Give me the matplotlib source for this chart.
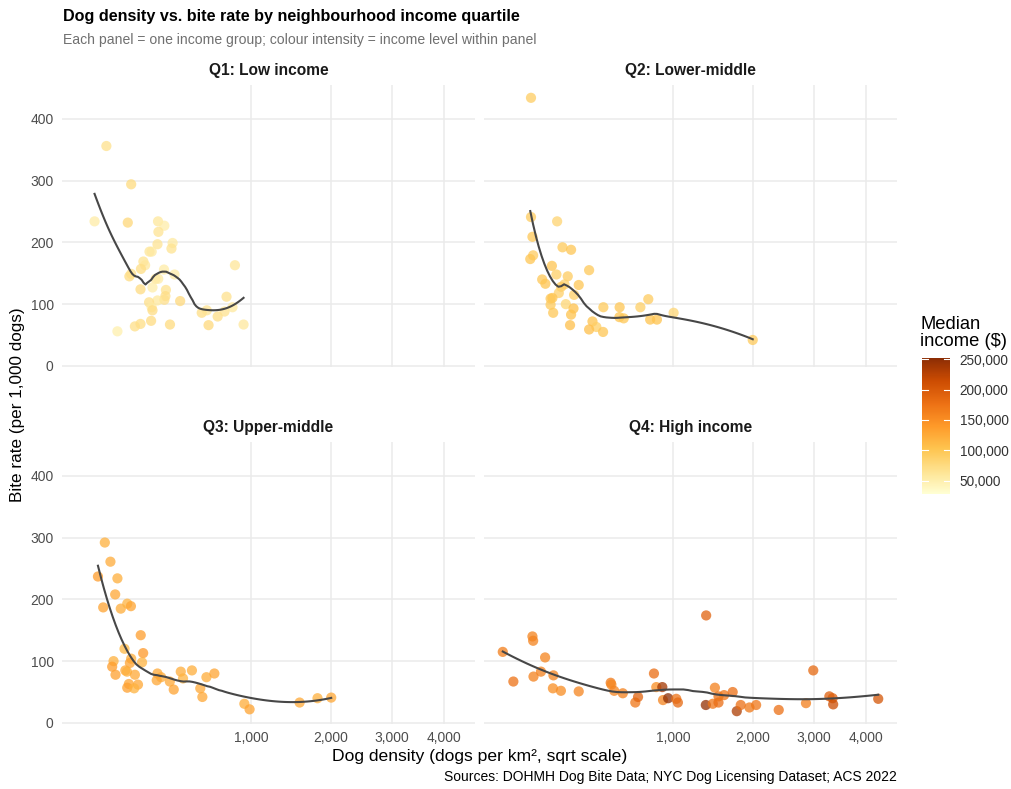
import numpy as np
import matplotlib
matplotlib.use("Agg")
import matplotlib.pyplot as plt
from matplotlib.colors import LinearSegmentedColormap, Normalize
from matplotlib.colorbar import ColorbarBase

plt.rcParams['font.family'] = ['Liberation Sans', 'DejaVu Sans']

# ---------------- data ----------------
panel_titles = ["Q1: Low income", "Q2: Lower-middle", "Q3: Upper-middle", "Q4: High income"]

q1_density = [63, 144, 36, 131, 269, 304, 271, 266, 353, 346, 225, 236, 196, 204, 185, 302, 365,
              137, 144, 256, 270, 841, 183, 240, 313, 310, 304, 266, 401, 223, 236, 240, 763, 555,
              595, 685, 745, 818, 609, 925, 233, 183, 159, 337, 95]
q1_bite = [356, 294, 234, 232, 234, 227, 217, 197, 199, 190, 185, 185, 169, 163, 157, 156, 148,
           145, 149, 141, 141, 163, 124, 127, 123, 113, 107, 106, 105, 103, 95, 90, 112, 86,
           90, 80, 88, 95, 66, 67, 73, 68, 64, 67, 56]
q1_income = [68000, 76000, 54000, 78000, 60000, 52000, 64000, 64000, 56000, 66000, 62000, 57000, 66000, 60000, 72000, 54000, 54000,
             75000, 70000, 60000, 55000, 62000, 74000, 52000, 67000, 72000, 69000, 58000, 77000, 70000, 56000, 73000, 68000, 72000,
             64000, 71000, 67000, 58000, 77000, 59000, 75000, 72000, 70000, 76000, 50000]

q2_density = [70, 70, 160, 74, 76, 68, 183, 223, 139, 320, 157, 207, 104, 115, 192, 177, 262, 167,
              238, 134, 141, 134, 198, 235, 144, 223, 409, 524, 691, 761, 1007, 522, 555, 778, 841,
              218, 340, 364, 320, 407, 1998]
q2_bite = [434, 241, 234, 209, 179, 173, 192, 188, 162, 155, 148, 145, 140, 133, 132, 128, 131, 118,
           115, 109, 110, 99, 100, 93, 86, 83, 95, 95, 95, 108, 86, 79, 77, 75, 75,
           66, 72, 63, 59, 55, 42]
q2_income = [92000, 95000, 84000, 98000, 94000, 100000, 96000, 100000, 102000, 97000, 90000, 94000, 98000, 102000, 86000, 95000, 100000, 88000,
             90000, 98000, 102000, 96000, 82000, 105000, 98000, 104000, 96000, 100000, 90000, 94000, 82000, 102000, 98000, 103000, 104000,
             106000, 104000, 90000, 107000, 100000, 96000]

q3_density = [59, 74, 43, 95, 88, 55, 106, 129, 143, 184, 195, 119, 190, 83, 79, 144, 139, 122, 128,
              89, 159, 135, 172, 129, 156, 266, 286, 262, 336, 360, 405, 420, 482, 544, 560, 592,
              657, 933, 986, 1568, 1809, 2005]
q3_bite = [292, 261, 237, 234, 208, 187, 185, 193, 189, 142, 113, 120, 98, 100, 91, 104, 97, 85, 83,
           78, 78, 63, 62, 57, 56, 80, 74, 69, 67, 54, 83, 72, 85, 56, 42, 74,
           80, 31, 22, 33, 40, 41]
q3_income = [120000, 125000, 138000, 122000, 128000, 132000, 124000, 118000, 130000, 136000, 140000, 112000, 118000, 120000, 138000, 122000, 132000, 128000, 120000,
             134000, 126000, 130000, 128000, 134000, 118000, 126000, 124000, 128000, 126000, 132000, 124000, 118000, 122000, 126000, 128000, 124000,
             130000, 124000, 132000, 126000, 120000, 128000]

q4_density = [14, 30, 74, 76, 114, 100, 145, 77, 143, 176, 262, 459, 464, 484, 548, 648, 671, 813,
              835, 893, 900, 951, 1035, 1052, 1374, 1370, 1482, 1456, 1528, 1528, 1600, 1715, 1771,
              1826, 1950, 2048, 2397, 2854, 2983, 3278, 3340, 3350, 4259]
q4_bite = [115, 67, 140, 133, 106, 83, 77, 75, 56, 52, 51, 65, 62, 52, 48, 33, 42, 80,
           58, 58, 37, 40, 39, 33, 174, 29, 57, 31, 33, 43, 45, 50, 19,
           29, 25, 29, 21, 32, 85, 43, 40, 30, 39]
q4_income = [165000, 175000, 160000, 160000, 158000, 162000, 160000, 162000, 150000, 152000, 158000, 168000, 155000, 160000, 162000, 172000, 190000, 180000,
             150000, 238000, 160000, 252000, 175000, 185000, 190000, 248000, 162000, 172000, 180000, 176000, 172000, 178000, 232000,
             178000, 170000, 172000, 178000, 165000, 185000, 195000, 195000, 215000, 205000]

densities = [q1_density, q2_density, q3_density, q4_density]
bites = [q1_bite, q2_bite, q3_bite, q4_bite]
incomes = [q1_income, q2_income, q3_income, q4_income]

x_ticks = [1000, 2000, 3000, 4000]
y_ticks = [0, 100, 200, 300, 400]
legend_ticks = [50000, 100000, 150000, 200000, 250000]

# ---------------- helpers ----------------
W, H = 1011, 789
fig = plt.figure(figsize=(W / 100, H / 100), dpi=100)


def ax_px(l, t, r, b):
    return fig.add_axes([l / W, 1 - b / H, (r - l) / W, (b - t) / H])


def loess(x, y, span=0.75, n=80):
    x = np.asarray(x, float)
    y = np.asarray(y, float)
    xs = np.linspace(x.min(), x.max(), n)
    q = int(np.floor(len(x) * span))
    out = []
    for x0 in xs:
        d = np.abs(x - x0)
        h = np.sort(d)[q - 1]
        u = np.clip(d / h, 0, 1)
        w = (1 - u ** 3) ** 3
        A = np.vstack([np.ones_like(x), x - x0, (x - x0) ** 2]).T
        sw = np.sqrt(w)
        beta, *_ = np.linalg.lstsq(A * sw[:, None], y * sw, rcond=None)
        out.append(beta[0])
    return xs, np.array(out)


cmap = LinearSegmentedColormap.from_list(
    "ylorbr7", ["#FFFFD4", "#FEE391", "#FEC44F", "#FE9929", "#EC7014", "#CC4C02", "#8C2D04"])
norm = Normalize(vmin=28000, vmax=252000)

all_x = np.concatenate([np.array(v, float) for v in densities])
all_y = np.concatenate([np.array(v, float) for v in bites])
sx0, sx1 = np.sqrt(all_x.min()), np.sqrt(all_x.max())
ex = 0.05 * (sx1 - sx0)
xlim = ((sx0 - ex) ** 2, (sx1 + ex) ** 2)
ey = 0.05 * (all_y.max() - all_y.min())
ylim = (all_y.min() - ey, all_y.max() + ey)

fwd = lambda v: np.sqrt(np.clip(v, 0, None))
inv = lambda v: np.square(v)

boxes = [(62, 85, 475, 367), (484, 85, 897, 367), (62, 442, 475, 724), (484, 442, 897, 724)]
grid_c = "#EBEBEB"
for i, (box, title) in enumerate(zip(boxes, panel_titles)):
    ax = ax_px(*box)
    ax.set_xscale('function', functions=(fwd, inv))
    ax.set_xlim(*xlim)
    ax.set_ylim(*ylim)
    for s in ax.spines.values():
        s.set_visible(False)
    ax.set_xticks(x_ticks)
    ax.set_yticks(y_ticks)
    ax.minorticks_off()
    ax.grid(True, color=grid_c, lw=1.1)
    ax.set_axisbelow(True)
    ax.tick_params(length=0, labelsize=10, labelcolor="#4D4D4D", pad=5)
    if i in (0, 2):
        ax.set_yticklabels([f"{v}" for v in y_ticks])
        ax.tick_params(axis='y', pad=6)
    else:
        ax.set_yticklabels([])
    if i in (2, 3):
        ax.set_xticklabels([f"{v:,}" for v in x_ticks])
    else:
        ax.set_xticklabels([])
    x = np.array(densities[i], float)
    y = np.array(bites[i], float)
    c = np.array(incomes[i], float)
    ax.scatter(x, y, c=c, cmap=cmap, norm=norm, s=54, alpha=0.75, linewidths=0, zorder=3)
    sxs, ys = loess(np.sqrt(x), y)
    ax.plot(sxs ** 2, ys, color="#474747", lw=1.5, zorder=4)
    ax.set_title(title, fontsize=11.2, fontweight='bold', color="#1A1A1A", pad=7)

# titles
fig.text(63 / W, 1 - 16 / H, "Dog density vs. bite rate by neighbourhood income quartile",
         fontsize=11.6, fontweight='bold', color="black", va='center', ha='left')
fig.text(63 / W, 1 - 40 / H, "Each panel = one income group; colour intensity = income level within panel",
         fontsize=10.1, color="#707070", va='center', ha='left')
fig.text(480 / W, 1 - 757 / H, "Dog density (dogs per km², sqrt scale)", fontsize=12.6,
         ha='center', va='center', color="black")
fig.text(18 / W, 1 - 405 / H, "Bite rate (per 1,000 dogs)", fontsize=12.3, rotation=90,
         ha='center', va='center', color="black")
fig.text(897 / W, 1 - 777 / H, "Sources: DOHMH Dog Bite Data; NYC Dog Licensing Dataset; ACS 2022",
         fontsize=10, ha='right', va='center', color="black")

# colorbar legend
cax = ax_px(922, 358, 950, 494)
cb = ColorbarBase(cax, cmap=cmap, norm=norm, orientation='vertical')
cb.outline.set_visible(False)
cb.set_ticks(legend_ticks)
cb.set_ticklabels([f"{v:,}" for v in legend_ticks])
cax.tick_params(length=0, labelsize=9.8, labelcolor="#333333", pad=7)
for v in legend_ticks:
    cax.plot([0, 0.2], [v, v], color="white", lw=0.8, transform=cax.get_yaxis_transform())
    cax.plot([0.8, 1.0], [v, v], color="white", lw=0.8, transform=cax.get_yaxis_transform())
fig.text(920 / W, 1 - 333 / H, "Median\nincome ($)", fontsize=13.2, ha='left', va='center',
         color="black", linespacing=1.0)

fig.savefig("out.png", dpi=100)
